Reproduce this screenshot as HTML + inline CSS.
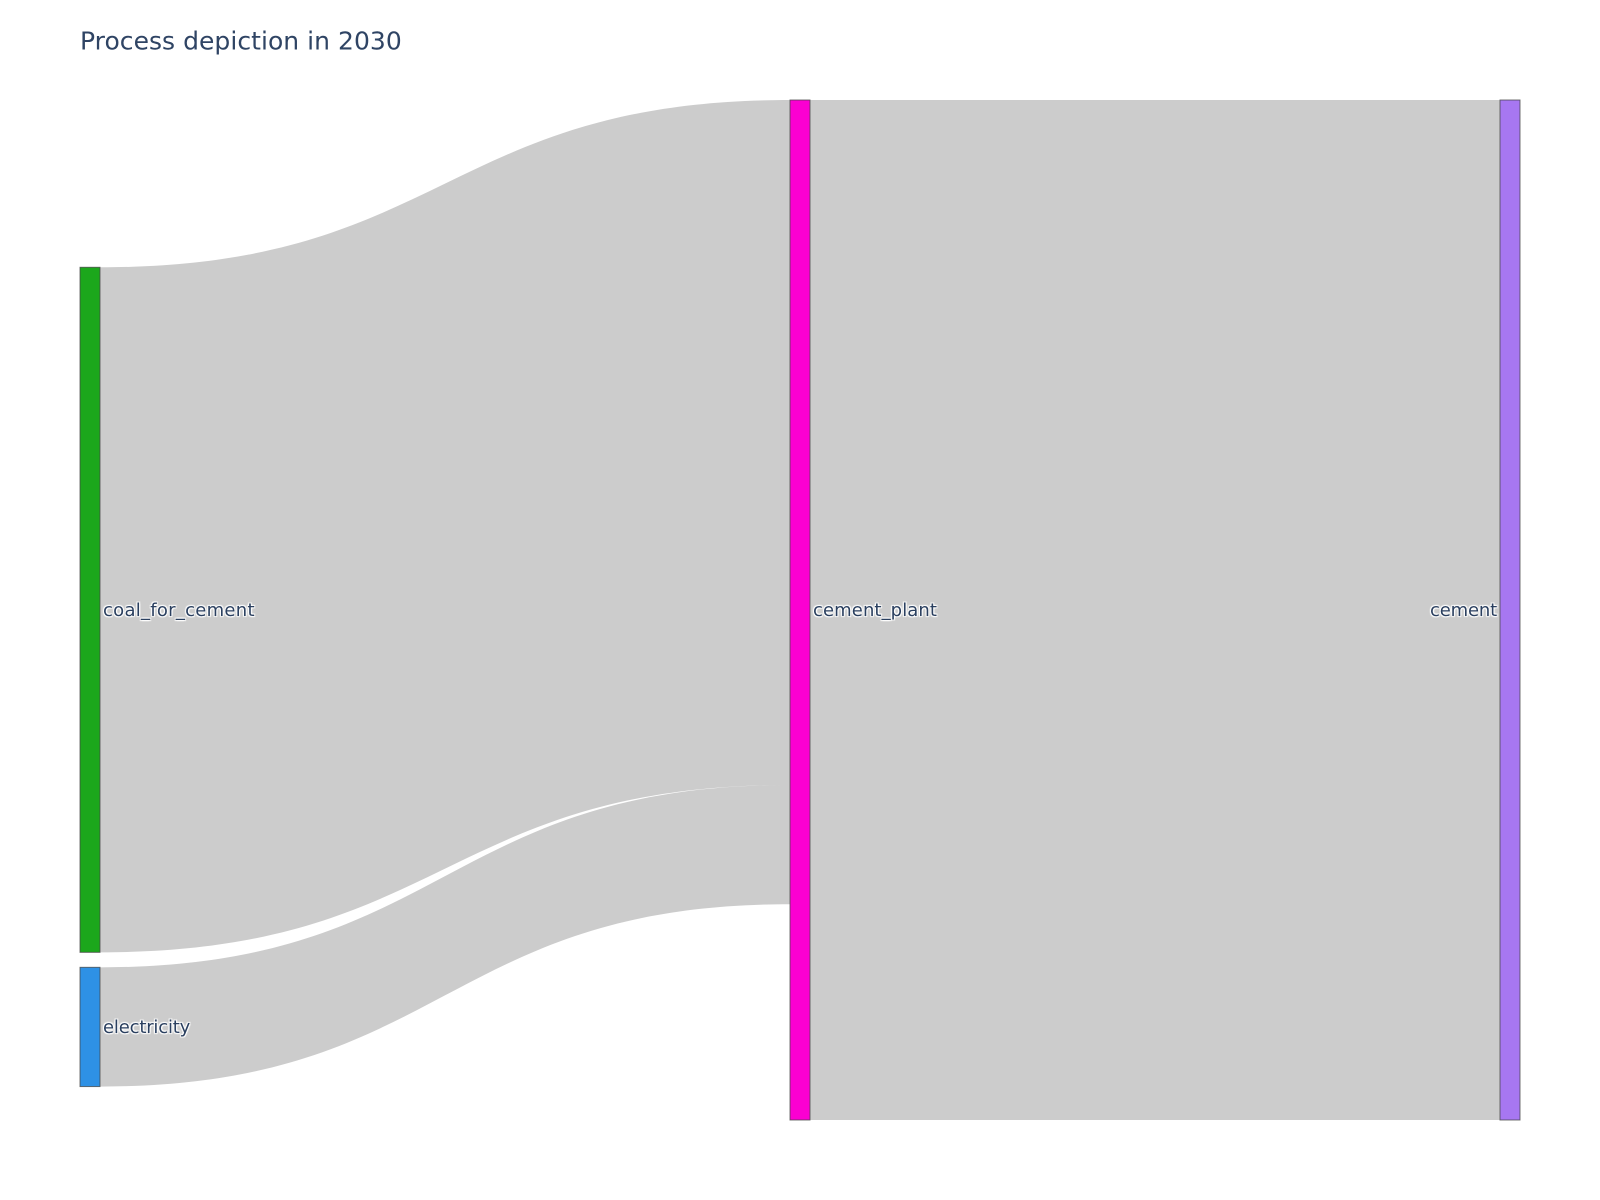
<!DOCTYPE html>
<html lang="en">
<head>
<meta charset="utf-8">
<title>Process depiction in 2030</title>
<style>
html,body{margin:0;padding:0;background:#fff;width:1600px;height:1200px;overflow:hidden}
svg{display:block}
text{font-family:"DejaVu Sans",Verdana,sans-serif}
.node-label{font-size:18px;fill:#2a3f5f;text-shadow:1px 1px 1px #fff,-1px -1px 1px #fff,1px -1px 1px #fff,-1px 1px 1px #fff}
</style>
</head>
<body>
<svg id="chart" xmlns="http://www.w3.org/2000/svg" width="1600" height="1200" viewBox="0 0 1600 1200">
  <rect x="0" y="0" width="1600" height="1200" fill="#ffffff"/>
  <text x="80" y="49.5" font-size="25" letter-spacing="0.04" fill="#2f4464">Process depiction in 2030</text>
  <g id="links"></g>
  <g id="nodes"></g>
  <g id="labels"></g>
</svg>
<script>
const nodeLabels = ['coal_for_cement', 'electricity', 'cement_plant', 'cement'];
const nodeColumns = [0, 0, 1, 2];
const linkSources = [0, 1, 2];
const linkTargets = [2, 2, 3];
const linkValues = [0.6716, 0.1169, 1.0];
const nodeFills = ['#1CA71C', '#2E91E5', '#FB00D1', '#A777F1'];
const labelTracking = { coal_for_cement: 0.27, electricity: -0.18, cement_plant: 0.09, cement: -0.17 };

const SVG_NS = 'http://www.w3.org/2000/svg';
const plotLeft = 80, plotRight = 1520, plotTop = 100, plotBottom = 1120;
const nodeWidth = 20, nodePad = 15, curvature = 0.5;
const firstColumnOffset = 167.3;

const columnCount = Math.max(...nodeColumns) + 1;
const columnX = c => plotLeft + c * (plotRight - plotLeft - nodeWidth) / (columnCount - 1);

const nodes = nodeLabels.map((label, i) => {
  let inSum = 0, outSum = 0;
  linkValues.forEach((v, k) => {
    if (linkTargets[k] === i) inSum += v;
    if (linkSources[k] === i) outSum += v;
  });
  return { label, i, column: nodeColumns[i], value: Math.max(inSum, outSum) };
});

let valueScale = Infinity;
for (let c = 0; c < columnCount; c++) {
  const col = nodes.filter(n => n.column === c);
  const sum = col.reduce((a, n) => a + n.value, 0);
  valueScale = Math.min(valueScale, (plotBottom - plotTop - (col.length - 1) * nodePad) / sum);
}
const yLen = v => v * valueScale;

for (let c = 0; c < columnCount; c++) {
  let y = plotTop + (c === 0 ? firstColumnOffset : 0);
  nodes.filter(n => n.column === c).forEach(n => {
    n.x = columnX(c);
    n.y = y;
    n.h = yLen(n.value);
    n.outY = y;
    n.inY = y;
    y += n.h + nodePad;
  });
}

const linksGroup = document.getElementById('links');
linkValues.forEach((v, k) => {
  const s = nodes[linkSources[k]], t = nodes[linkTargets[k]];
  const h = yLen(v);
  const x0 = s.x + nodeWidth, x1 = t.x;
  const y0 = s.outY, y1 = t.inY;
  s.outY += h;
  t.inY += h;
  const cx0 = x0 + (x1 - x0) * curvature, cx1 = x0 + (x1 - x0) * (1 - curvature);
  const path = document.createElementNS(SVG_NS, 'path');
  path.setAttribute('d',
    `M${x0} ${y0}C${cx0} ${y0} ${cx1} ${y1} ${x1} ${y1}` +
    `L${x1} ${y1 + h}C${cx1} ${y1 + h} ${cx0} ${y0 + h} ${x0} ${y0 + h}Z`);
  path.setAttribute('fill', 'rgba(0,0,0,0.2)');
  
  
  linksGroup.appendChild(path);
});

const nodesGroup = document.getElementById('nodes');
const labelsGroup = document.getElementById('labels');
nodes.forEach(n => {
  const r = document.createElementNS(SVG_NS, 'rect');
  r.setAttribute('x', n.x);
  r.setAttribute('y', n.y);
  r.setAttribute('width', nodeWidth);
  r.setAttribute('height', n.h);
  r.setAttribute('fill', nodeFills[n.i]);
  r.setAttribute('stroke', 'rgb(68,68,68)');
  r.setAttribute('stroke-width', '1');
  r.setAttribute('stroke-opacity', '0.75');
  
  
  nodesGroup.appendChild(r);

  const lastColumn = n.column === columnCount - 1;
  const t = document.createElementNS(SVG_NS, 'text');
  t.setAttribute('class', 'node-label');
  t.setAttribute('x', lastColumn ? n.x - 3 : n.x + nodeWidth + 3);
  t.setAttribute('y', n.y + n.h / 2 + 6);
  t.setAttribute('text-anchor', lastColumn ? 'end' : 'start');
  t.setAttribute('letter-spacing', labelTracking[n.label] || 0);
  t.textContent = n.label;
  
  
  labelsGroup.appendChild(t);
});
</script>
</body>
</html>
